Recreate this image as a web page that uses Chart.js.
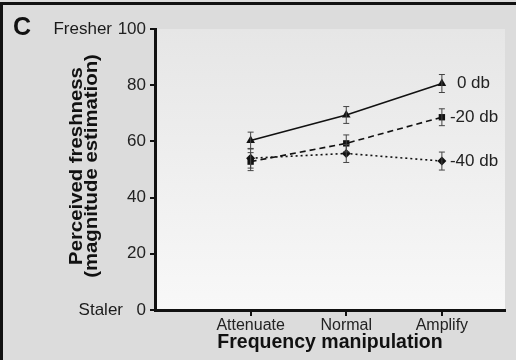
<!DOCTYPE html>
<html>
<head>
<meta charset="utf-8">
<script src="https://cdn.jsdelivr.net/npm/chart.js@4"></script>
<style>
  html, body { margin: 0; padding: 0; background: #dcdcdc; }
  #wrap { width: 516px; height: 360px; }
</style>
</head>
<body>
<div id="wrap"><canvas id="chart" width="516" height="360"></canvas></div>
<script>
// data
const categories = ['Attenuate', 'Normal', 'Amplify'];
const seriesNames = ['0 db', '-20 db', '-40 db'];
const db0 = [60.3, 69.4, 80.6];
const db20 = [52.8, 59.3, 68.6];
const db40 = [54.0, 55.7, 53.0];
const err0 = [3.0, 3.0, 3.2];
const err20 = [3.2, 3.0, 3.0];
const err40 = [3.5, 3.2, 3.2];
const yTicks = [0, 20, 40, 60, 80, 100];

const FONT = "'Liberation Sans', Arial, sans-serif";

function toPoints(vals) {
  return vals.map((v, i) => ({ x: i + 1, y: v }));
}

// background, frame, panel letter and extra labels
const decor = {
  id: 'decor',
  beforeDraw(chart) {
    const { ctx, chartArea: a } = chart;
    ctx.save();
    ctx.fillStyle = '#dcdcdc';
    ctx.fillRect(0, 0, chart.width, chart.height);
    const g = ctx.createLinearGradient(0, a.top, 0, a.bottom);
    g.addColorStop(0, '#e6e6e6');
    g.addColorStop(1, '#f8f8f8');
    ctx.fillStyle = g;
    ctx.fillRect(a.left, a.top, a.right - a.left, a.bottom - a.top);
    // outer frame
    ctx.fillStyle = '#111';
    ctx.fillRect(0, 2, chart.width, 3);
    ctx.fillRect(0, 2, 3, chart.height);
    ctx.restore();
  },
  afterDraw(chart) {
    const { ctx } = chart;
    const y = chart.scales.y;
    ctx.save();
    ctx.fillStyle = '#111';
    ctx.font = 'bold 25px ' + FONT;
    ctx.textBaseline = 'alphabetic';
    ctx.fillText('C', 13, 35);

    ctx.font = '17px ' + FONT;
    ctx.fillStyle = '#1a1a1a';
    ctx.textAlign = 'right';
    ctx.textBaseline = 'middle';
    ctx.fillText('Fresher', 112, y.getPixelForValue(100));
    ctx.fillText('Staler', 123, y.getPixelForValue(0));

    // y title, two lines rotated (stretched a bit along the text like the scan)
    ctx.translate(0, 166);
    ctx.rotate(-Math.PI / 2);
    ctx.scale(1.13, 1);
    ctx.textAlign = 'center';
    ctx.textBaseline = 'alphabetic';
    ctx.font = 'bold 18px ' + FONT;
    ctx.fillStyle = '#111';
    ctx.fillText('Perceived freshness', 0, 82);
    ctx.fillText('(magnitude estimation)', 0, 97);
    ctx.restore();
  }
};

// error bars and series labels
const errBars = {
  id: 'errBars',
  afterDatasetsDraw(chart) {
    const { ctx } = chart;
    const xs = chart.scales.x, ys = chart.scales.y;
    const errs = [err0, err20, err40];
    ctx.save();
    chart.data.datasets.forEach((ds, di) => {
      ds.data.forEach((p, i) => {
        const px = xs.getPixelForValue(p.x);
        const top = ys.getPixelForValue(p.y + errs[di][i]);
        const bot = ys.getPixelForValue(p.y - errs[di][i]);
        ctx.strokeStyle = '#444';
        ctx.lineWidth = 1;
        ctx.beginPath();
        ctx.moveTo(px, top); ctx.lineTo(px, bot);
        ctx.moveTo(px - 3, top); ctx.lineTo(px + 3, top);
        ctx.moveTo(px - 3, bot); ctx.lineTo(px + 3, bot);
        ctx.stroke();
      });
      const last = ds.data[ds.data.length - 1];
      ctx.fillStyle = '#222';
      ctx.font = '17px ' + FONT;
      ctx.textAlign = 'left';
      ctx.textBaseline = 'middle';
      ctx.fillText(seriesNames[di], xs.getPixelForValue(last.x) + (di === 0 ? 15 : 8), ys.getPixelForValue(last.y));
    });
    ctx.restore();
  }
};

const lineStyle = {
  borderColor: '#111',
  backgroundColor: '#111',
  borderWidth: 1.6,
  pointRadius: 5,
  pointBorderWidth: 0,
  tension: 0
};

new Chart(document.getElementById('chart'), {
  type: 'line',
  data: {
    datasets: [
      Object.assign({ label: seriesNames[0], data: toPoints(db0), pointStyle: 'triangle' }, lineStyle),
      Object.assign({ label: seriesNames[1], data: toPoints(db20), pointStyle: 'rect', borderDash: [6, 4] }, lineStyle, { pointRadius: 4.5 }),
      Object.assign({ label: seriesNames[2], data: toPoints(db40), pointStyle: 'rectRot', borderDash: [2, 3] }, lineStyle, { pointRadius: 4.5 })
    ]
  },
  options: {
    responsive: false,
    animation: false,
    layout: { padding: { top: 29, right: 11, left: 0, bottom: 0 } },
    plugins: { legend: { display: false }, tooltip: { enabled: false } },
    scales: {
      x: {
        type: 'linear',
        min: 0,
        max: 3.66,
        afterFit(s) { s.height = 50; },
        afterBuildTicks(s) { s.ticks = categories.map((c, i) => ({ value: i + 1 })); },
        ticks: {
          callback: (v) => categories[v - 1] || '',
          color: '#222',
          font: { family: FONT, size: 16 },
          padding: 0,
          maxRotation: 0
        },
        grid: { drawOnChartArea: false, drawTicks: true, tickLength: 6, color: '#111', lineWidth: 2 },
        border: { color: '#111', width: 3 },
        title: {
          display: true,
          text: 'Frequency manipulation',
          color: '#111',
          font: { family: FONT, size: 19.5, weight: 'bold' },
          padding: { top: 0, bottom: 6 }
        }
      },
      y: {
        min: 0,
        max: 100,
        afterFit(s) { s.width = 155; },
        afterBuildTicks(s) { s.ticks = yTicks.map(v => ({ value: v })); },
        ticks: {
          color: '#222',
          font: { family: FONT, size: 17 },
          padding: 4
        },
        grid: { drawOnChartArea: false, drawTicks: true, tickLength: 5, color: '#111', lineWidth: 2 },
        border: { color: '#111', width: 3 }
      }
    }
  },
  plugins: [decor, errBars]
});
</script>
</body>
</html>
